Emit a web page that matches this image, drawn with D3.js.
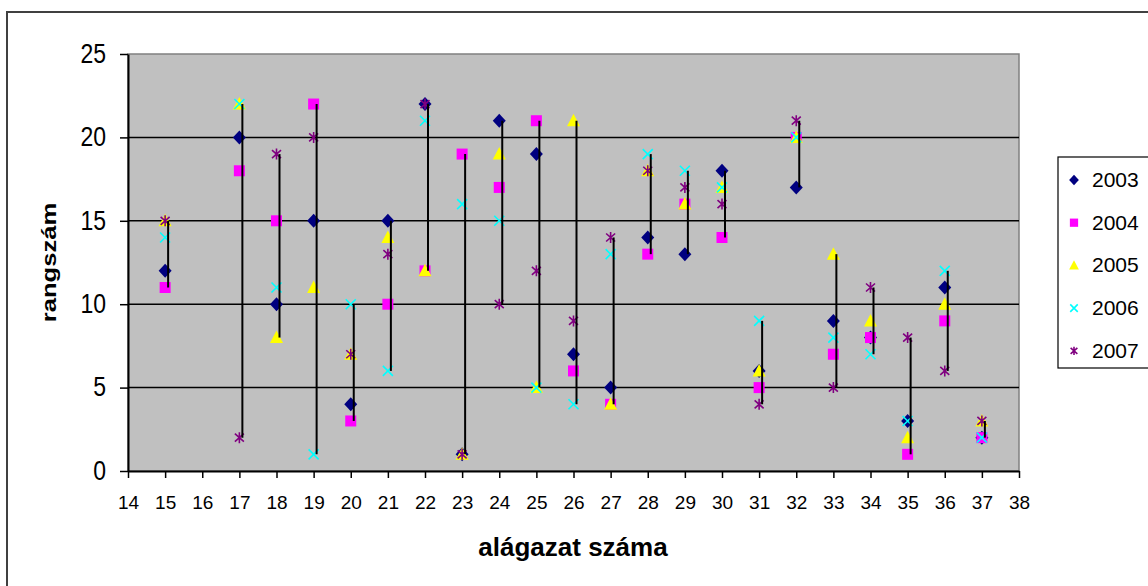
<!DOCTYPE html>
<html>
<head>
<meta charset="utf-8">
<script src="https://cdn.jsdelivr.net/npm/d3@7"></script>
<style>
  body { margin: 0; background: #fff; }
  svg text { font-family: "Liberation Sans", Arial, sans-serif; fill: #000; }
</style>
</head>
<body>
<div id="chart"></div>
<script>
// categories (alágazat száma) and yearly ranks
var cats  = [15, 17, 18, 19, 20, 21, 22, 23, 24, 25, 26, 27, 28, 29, 30, 31, 32, 33, 34, 35, 36, 37];
var y2003 = [12, 20, 10, 15,  4, 15, 22,  1, 21, 19,  7,  5, 14, 13, 18,  6, 17,  9,  8,  3, 11,  2];
var y2004 = [11, 18, 15, 22,  3, 10, 12, 19, 17, 21,  6,  4, 13, 16, 14,  5, 20,  7,  8,  1,  9,  2];
var y2005 = [15, 22,  8, 11,  7, 14, 12,  1, 19,  5, 21,  4, 18, 16, 17,  6, 20, 13,  9,  2, 10,  3];
var y2006 = [14, 22, 11,  1, 10,  6, 21, 16, 15,  5,  4, 13, 19, 18, 17,  9, 20,  8,  7,  3, 12,  2];
var y2007 = [15,  2, 19, 20,  7, 13, 22,  1, 10, 12,  9, 14, 18, 17, 16,  4, 21,  5, 11,  8,  6,  3];
var years = ["2003", "2004", "2005", "2006", "2007"];
var xTicks = d3.range(14, 39);
var yTicks = [0, 5, 10, 15, 20, 25];

var series = [
  {name: years[0], values: y2003, color: "#000080", shape: "diamond"},
  {name: years[1], values: y2004, color: "#ff00ff", shape: "square"},
  {name: years[2], values: y2005, color: "#ffff00", shape: "triangle"},
  {name: years[3], values: y2006, color: "#00ffff", shape: "cross"},
  {name: years[4], values: y2007, color: "#800080", shape: "star"}
];

var W = 1148, H = 586;
var plotL = 128, plotR = 1019, plotT = 54, plotB = 471;

var svg = d3.select("#chart").append("svg")
  .attr("width", W).attr("height", H);

// outer chart frame
svg.append("rect")
  .attr("x", 7).attr("y", 12).attr("width", 1200).attr("height", 640)
  .attr("fill", "#fff").attr("stroke", "#404040").attr("stroke-width", 2);

var x = d3.scaleLinear().domain([14, 38]).range([plotL, plotR]);
var y = d3.scaleLinear().domain([0, 25]).range([plotB, plotT]);

// plot area
svg.append("rect")
  .attr("x", plotL).attr("y", plotT).attr("width", plotR - plotL).attr("height", plotB - plotT)
  .attr("fill", "#c0c0c0").attr("stroke", "#808080").attr("stroke-width", 1.5);

// grid lines
svg.append("g").selectAll("line")
  .data(yTicks.filter(function(d) { return d > 0 && d < 25; }))
  .enter().append("line")
  .attr("x1", plotL).attr("x2", plotR)
  .attr("y1", function(d) { return y(d); }).attr("y2", function(d) { return y(d); })
  .attr("stroke", "#000").attr("stroke-width", 1.5);

// axes
var yAxis = svg.append("g")
  .attr("transform", "translate(" + plotL + ",0)")
  .call(d3.axisLeft(y).tickValues(yTicks).tickSize(8).tickSizeOuter(0).tickPadding(14));
yAxis.selectAll("text")
  .attr("font-size", 23)
  .attr("transform", "scale(1,1.2)")
  .attr("dy", "0.3em");

var xAxis = svg.append("g")
  .attr("transform", "translate(0," + plotB + ")")
  .call(d3.axisBottom(x).tickValues(xTicks).tickFormat(d3.format("d")).tickSize(7).tickSizeOuter(0).tickPadding(18));
xAxis.selectAll("text").attr("font-size", 19);

[yAxis, xAxis].forEach(function(a) {
  a.select(".domain").attr("stroke", "#000").attr("stroke-width", 2);
  a.selectAll(".tick line").attr("stroke", "#000").attr("stroke-width", 1.5);
});

// marker shapes
function shapePath(shape, s) {
  var p = d3.path();
  if (shape === "diamond") {
    p.moveTo(0, -7 * s); p.lineTo(6.5 * s, 0); p.lineTo(0, 7 * s); p.lineTo(-6.5 * s, 0); p.closePath();
  } else if (shape === "square") {
    p.rect(-5.5 * s, -5.5 * s, 11 * s, 11 * s);
  } else if (shape === "triangle") {
    p.moveTo(0, -7 * s); p.lineTo(6.5 * s, 5.5 * s); p.lineTo(-6.5 * s, 5.5 * s); p.closePath();
  } else if (shape === "cross") {
    p.moveTo(-5 * s, -5 * s); p.lineTo(5 * s, 5 * s);
    p.moveTo(5 * s, -5 * s); p.lineTo(-5 * s, 5 * s);
  } else {
    p.moveTo(-4.5 * s, -4 * s); p.lineTo(4.5 * s, 4 * s);
    p.moveTo(4.5 * s, -4 * s); p.lineTo(-4.5 * s, 4 * s);
    p.moveTo(0, -5.5 * s); p.lineTo(0, 5.5 * s);
  }
  return p.toString();
}
function styleMarker(sel, d) {
  var lineish = d.shape === "cross" || d.shape === "star";
  sel.attr("fill", lineish ? "none" : d.color)
    .attr("stroke", lineish ? d.color : "none")
    .attr("stroke-width", lineish ? 1.6 : 0);
}

// markers
series.forEach(function(s) {
  svg.append("g").selectAll("path")
    .data(s.values)
    .enter().append("path")
    .attr("transform", function(v, i) { return "translate(" + x(cats[i]) + "," + y(v) + ")"; })
    .attr("d", shapePath(s.shape, 1))
    .call(styleMarker, s);
});

// high-low lines
var ranges = cats.map(function(c, i) {
  var vals = series.map(function(s) { return s.values[i]; });
  return {cat: c, lo: d3.min(vals), hi: d3.max(vals)};
});
svg.append("g").selectAll("line")
  .data(ranges)
  .enter().append("line")
  .attr("x1", function(d) { return x(d.cat) + 3; })
  .attr("x2", function(d) { return x(d.cat) + 3; })
  .attr("y1", function(d) { return y(d.lo); })
  .attr("y2", function(d) { return y(d.hi); })
  .attr("stroke", "#000").attr("stroke-width", 2);

// axis titles
svg.append("text")
  .attr("transform", "translate(56," + ((plotT + plotB) / 2) + ") rotate(-90) scale(1.28,1)")
  .attr("text-anchor", "middle")
  .attr("font-size", 20).attr("font-weight", "bold")
  .text("rangszám");

svg.append("text")
  .attr("x", 573).attr("y", 556)
  .attr("text-anchor", "middle")
  .attr("font-size", 26).attr("font-weight", "bold")
  .text("alágazat száma");

// legend
var legend = svg.append("g");
legend.append("rect")
  .attr("x", 1058).attr("y", 157).attr("width", 140).attr("height", 211)
  .attr("fill", "#fff").attr("stroke", "#000").attr("stroke-width", 1.2);
var items = legend.selectAll("g.item").data(series).enter().append("g")
  .attr("class", "item")
  .attr("transform", function(d, i) { return "translate(0," + (187 + i * 42.7) + ")"; });
items.append("path")
  .attr("transform", "translate(1074,-7)")
  .attr("d", function(d) { return shapePath(d.shape, 0.75); })
  .each(function(d) { d3.select(this).call(styleMarker, d); });
items.append("text")
  .attr("x", 1092).attr("y", 0)
  .attr("font-size", 21)
  .text(function(d) { return d.name; });
</script>
</body>
</html>
